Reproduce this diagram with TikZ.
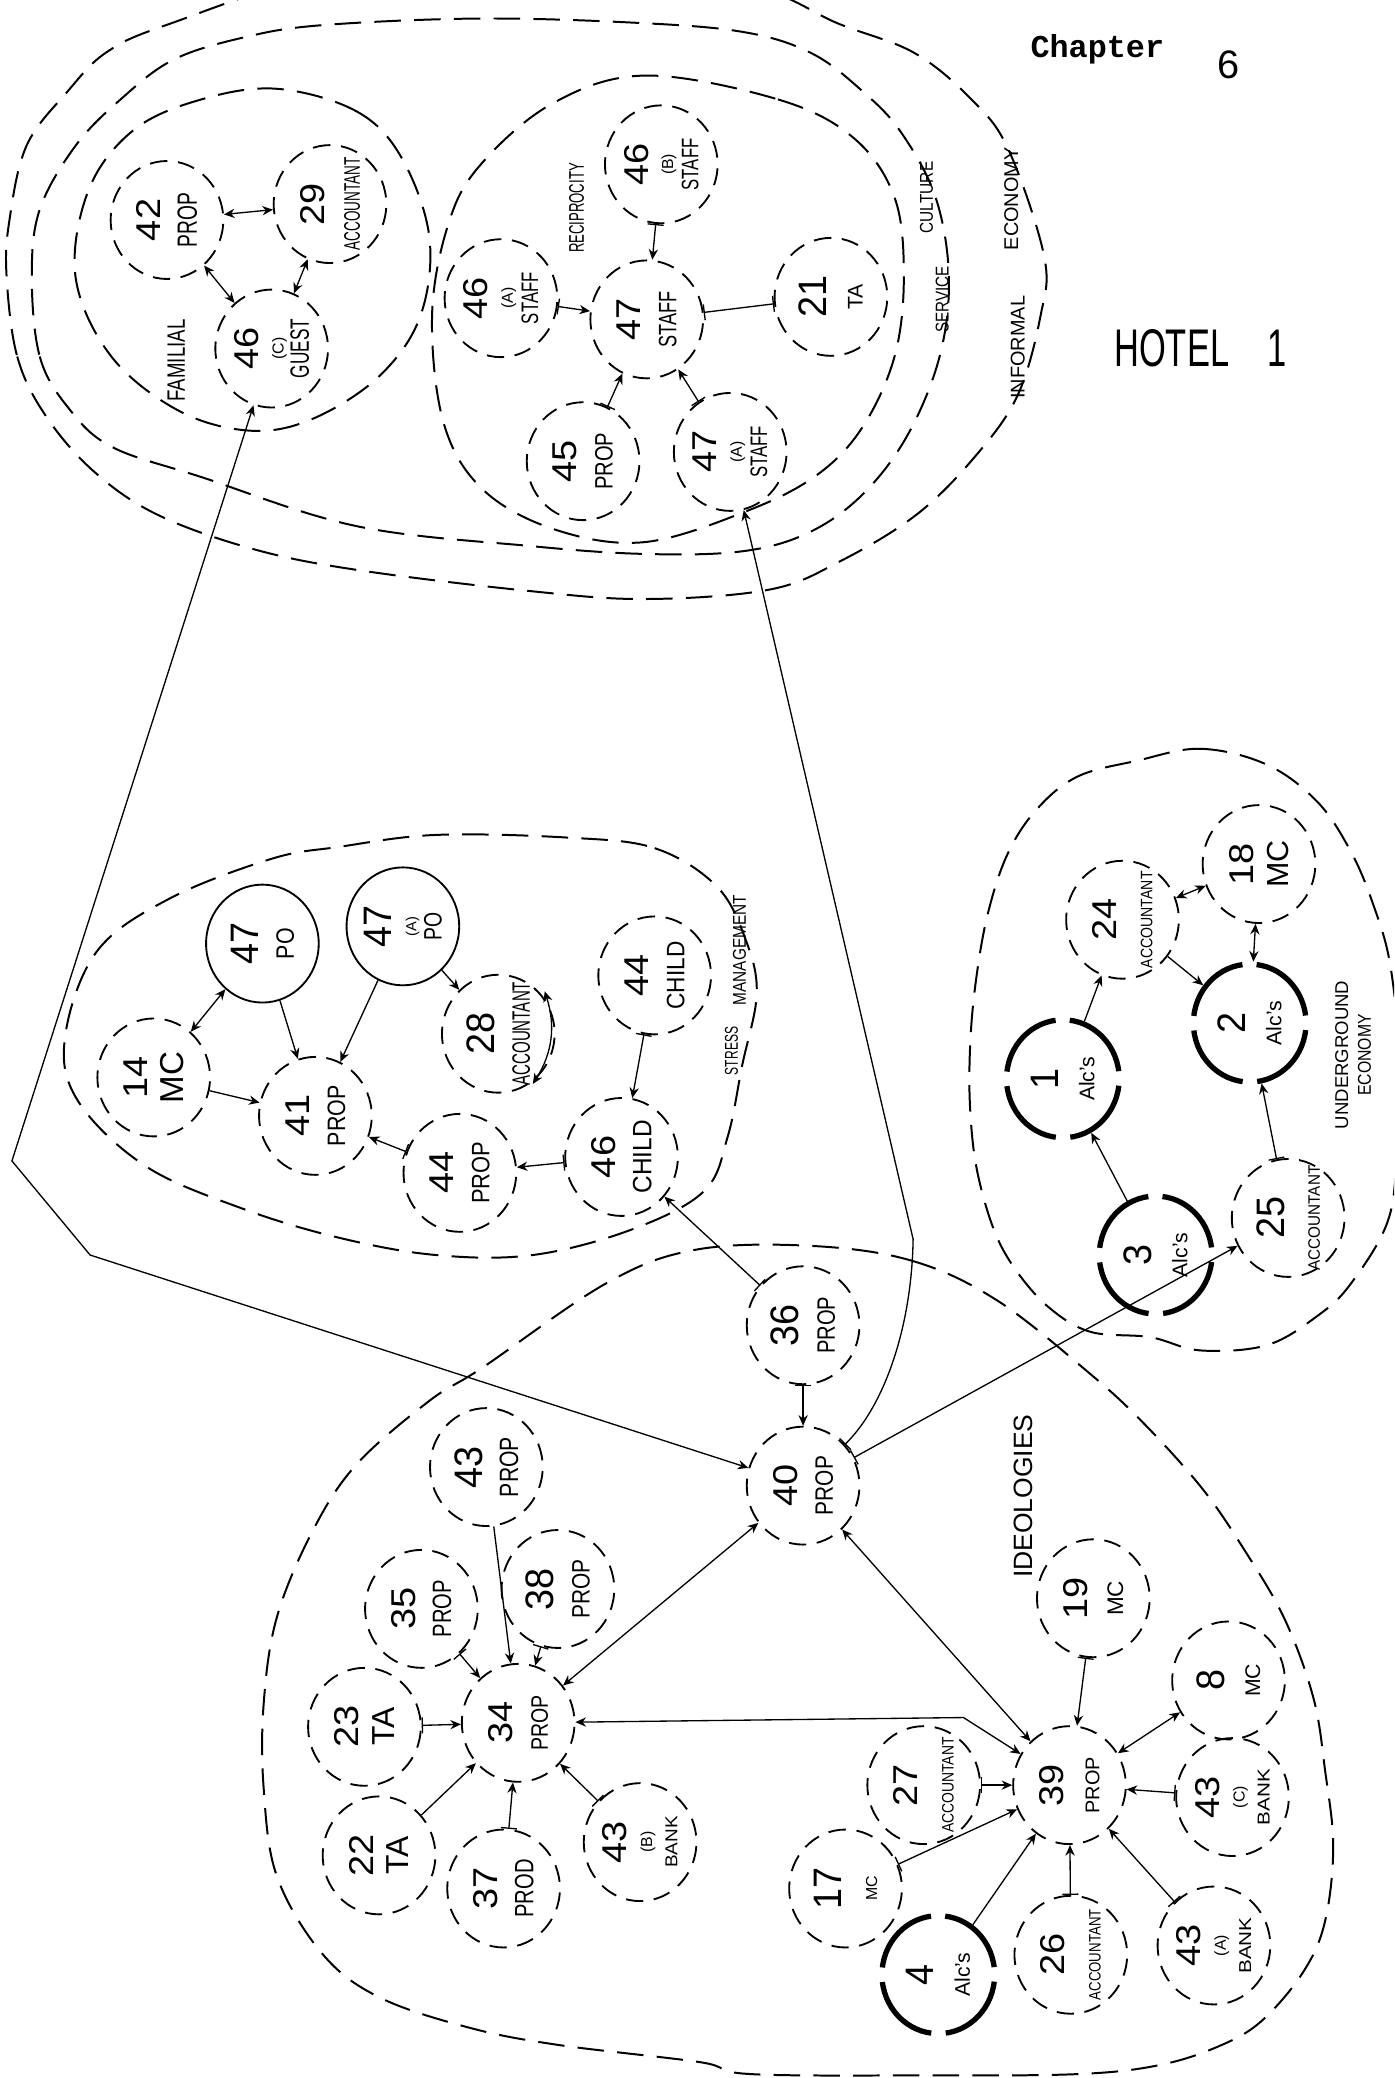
\documentclass[tikz,border=0pt]{standalone}
\usepackage{fontspec}
\usepackage{graphicx}
\setmainfont{Liberation Sans}
\newfontfamily\typew{Liberation Mono}
\usetikzlibrary{arrows.meta,shapes.geometric}
\newcommand\hnum[1]{{\fontsize{26}{26}\selectfont\scalebox{1.1}[1]{#1}}}
\newcommand\hbig[1]{{\fontsize{30}{30}\selectfont\scalebox{0.95}[1]{#1}}}
\newcommand\hlab[3]{{\fontsize{#1}{#1}\selectfont\scalebox{#2}[1]{#3}}}
\tikzset{
 dn/.style={ellipse, draw, line width=1.4pt, dash pattern=on 13pt off 8pt, rotate=90, minimum width=89pt, minimum height=85pt, inner sep=-15pt, align=center, font=\fontsize{10}{27}\selectfont},
 dn3/.style={dn, font=\fontsize{10}{19}\selectfont},
 sn/.style={dn, solid, line width=1.4pt},
 sn3/.style={sn, font=\fontsize{10}{19}\selectfont},
 tn/.style={dn, line width=4pt, dash pattern=on 57.4pt off 11pt, dash phase=62.9pt},
 grp/.style={line width=1.5pt, dash pattern=on 20pt off 10pt},
 con/.style={line width=1pt},
 ba/.style={con, {Bar[width=12pt]}-{Stealth[length=8pt,width=7pt]}},
 aa/.style={con, {Stealth[length=8pt,width=7pt]}-{Stealth[length=8pt,width=7pt]}},
 pa/.style={con, -{Stealth[length=8pt,width=7pt]}},
 bb/.style={con, {Bar[width=12pt]}-{Bar[width=12pt]}},
 hw/.style={inner sep=0pt}
}
\begin{document}
\begin{tikzpicture}[x=1pt,y=-1pt]
\useasboundingbox (0,0) rectangle (1052,1568);
\fill[white] (0,0) rectangle (1052,1568);
\clip (0,0) rectangle (1052,1568);

% ---------- group boundaries ----------
\draw[grp] plot[smooth cycle, tension=0.6] coordinates {(5,209) (13,269) (34,313) (70,355) (118,388) (190,414) (269,430) (400,446) (487,452) (580,445) (633,424) (692,388) (737,343) (768,298) (785,239) (788,194) (761,113) (733,75) (690,40) (633,18) (560,-12) (400,-30) (250,-20) (128,18) (81,39) (51,69) (20,110) (7,167)};
\draw[grp] plot[smooth cycle, tension=0.6] coordinates {(24,209) (30,269) (51,307) (84,337) (152,360) (269,397) (400,412) (487,418) (560,416) (610,402) (651,373) (685,328) (709,269) (716,209) (706,149) (680,100) (651,69) (612,40) (560,24) (476,17) (360,14) (243,19) (185,28) (131,45) (91,75) (57,110) (30,158)};
\draw[grp] plot[smooth cycle, tension=0.6] coordinates {(209,67) (269,84) (303,119) (324,179) (317,239) (286,284) (236,316) (189,325) (135,310) (84,269) (57,209) (67,143) (101,98) (152,75)};
\draw[grp] plot[smooth cycle, tension=0.6] coordinates {(487,57) (587,75) (644,104) (675,149) (682,209) (675,269) (651,322) (617,358) (565,385) (487,409) (420,400) (365,370) (335,320) (326,239) (338,170) (362,125) (417,78)};
\draw[grp] plot[smooth cycle, tension=0.6] coordinates {(428,632) (494,640) (541,669) (563,710) (571,750) (560,804) (549,858) (531,899) (476,928) (402,947) (329,947) (256,934) (183,912) (110,880) (59,831) (49,783) (73,718) (128,678) (205,648) (256,639) (329,630)};
\draw[grp] plot[smooth cycle, tension=0.6] coordinates {(858,574) (906,565) (956,577) (994,605) (1019,642) (1036,682) (1049,728) (1056,800) (1054,870) (1047,922) (1019,969) (994,993) (956,1015) (906,1019) (868,1009) (823,1005) (792,987) (767,959) (750,928) (737,882) (732,836) (732,790) (736,743) (745,691) (760,645) (782,611) (813,586)};
\draw[grp] plot[smooth cycle, tension=0.6] coordinates {(610,940) (687,951) (752,981) (823,1037) (864,1075) (907,1123) (938,1168) (969,1221) (991,1281) (1000,1337) (1006,1393) (1000,1449) (984,1487) (953,1524) (922,1543) (876,1558) (814,1565) (700,1566) (566,1565) (528,1556) (421,1543) (354,1530) (286,1507) (243,1474) (209,1416) (199,1350) (199,1285) (209,1220) (236,1155) (269,1105) (324,1057) (364,1032) (458,968) (525,943)};

% ---------- texts ----------
\node[hw, font=\typew\bfseries\fontsize{24}{24}\selectfont] (chap) at (828,37) {Chapter};
\node[hw, font=\fontsize{30}{30}\selectfont] (six) at (927,49) {6};
\node[hw, font=\fontsize{40}{40}\selectfont] (hotel) at (906,263) {\scalebox{0.65}[1]{HOTEL\hspace{45pt}1}};
\node[hw, rotate=90] (tfam) at (133,272) {\hlab{19}{0.74}{FAMILIAL}};
\node[hw, rotate=90] (trec) at (435,157) {\hlab{16}{0.62}{RECIPROCITY}};
\node[hw, rotate=90] (tser) at (711,226) {\hlab{14}{0.82}{SERVICE}};
\node[hw, rotate=90] (tcul) at (699,149) {\hlab{14}{0.83}{CULTURE}};
\node[hw, rotate=90] (tinf) at (768,262) {\hlab{15}{1}{INFORMAL}};
\node[hw, rotate=90] (teco) at (763,150) {\hlab{15}{1}{ECONOMY}};
\node[hw, rotate=90] (tstr) at (552,793) {\hlab{14}{0.65}{STRESS}};
\node[hw, rotate=90] (tman) at (558,717) {\hlab{14}{0.83}{MANAGEMENT}};
\node[hw, rotate=90, align=center, font=\fontsize{14}{17}\selectfont] (tund) at (1021,796) {UNDERGROUND\\\scalebox{0.85}[1]{ECONOMY}};
\node[hw, rotate=90, font=\fontsize{20}{20}\selectfont] (tide) at (772,1129) {IDEOLOGIES};

% ---------- nodes: top ----------
\node[dn] (n42) at (126,166) {\hnum{42}\\\hlab{21}{0.69}{PROP}};
\node[dn] (n29) at (249,154) {\hnum{29}\\\hlab{17}{0.6}{ACCOUNTANT}};
\node[dn3] (n46C) at (205,263) {\hnum{46}\\\hlab{12}{1}{(C)}\\\hlab{20}{0.65}{GUEST}};
\node[dn3] (n46A) at (378,225) {\hnum{46}\\\hlab{12}{1}{(A)}\\\hlab{18}{0.7}{STAFF}};
\node[dn] (n47S) at (488,241) {\hnum{47}\\\hlab{19}{0.72}{STAFF}};
\node[dn3] (n46B) at (499,124) {\hnum{46}\\\hlab{12}{1}{(B)}\\\hlab{18}{0.7}{STAFF}};
\node[dn] (n21) at (627,224) {\hbig{21}\\\hlab{16}{1}{TA}};
\node[dn] (n45) at (440,348) {\hnum{45}\\\hlab{19}{0.8}{PROP}};
\node[dn3] (n47A) at (551,341) {\hnum{47}\\\hlab{12}{1}{(A)}\\\hlab{18}{0.7}{STAFF}};

% ---------- nodes: stress management ----------
\node[sn] (n47PO) at (198,712) {\hbig{47}\\\hlab{19}{0.85}{PO}};
\node[sn3] (n47APO) at (304,699) {\hbig{47}\\\hlab{11}{1}{(A)}\\\hlab{19}{0.77}{PO}};
\node[dn] (n14) at (116,813) {\hnum{14}\\\hlab{25}{1}{MC}};
\node[dn] (n41) at (238,842) {\hnum{41}\\\hlab{19}{0.85}{PROP}};
\node[dn] (n28) at (376,780) {\hbig{28}\\\hlab{19}{0.6}{ACCOUNTANT}};
\node[dn] (n44C) at (494,736) {\hnum{44}\\\hlab{19}{0.9}{CHILD}};
\node[dn] (n46CH) at (469,873) {\hnum{46}\\\hlab{20}{0.92}{CHILD}};
\node[dn] (n44P) at (347,885) {\hnum{44}\\\hlab{19}{0.87}{PROP}};

% ---------- nodes: underground economy ----------
\node[dn] (n24) at (847,694) {\hnum{24}\\\hlab{12.5}{0.85}{ACCOUNTANT}};
\node[dn] (n18) at (950,652) {\hnum{18}\\\hlab{23}{1}{MC}};
\node[tn] (n1) at (802,814) {\hbig{1}\\\hlab{16}{1}{Alc's}};
\node[tn] (n2) at (943,772) {\hbig{2}\\\hlab{16}{1}{Alc's}};
\node[tn] (n3) at (872,947) {\hbig{3}\\\hlab{16}{1}{Alc's}};
\node[dn] (n25) at (972,919) {\hbig{25}\\\hlab{12.5}{0.92}{ACCOUNTANT}};

% ---------- nodes: ideologies ----------
\node[dn] (n36) at (606,1000) {\hbig{36}\\\hlab{19}{0.8}{PROP}};
\node[dn] (n40) at (606,1121) {\hnum{40}\\\hlab{19}{0.83}{PROP}};
\node[dn] (n43P) at (367,1107) {\hbig{43}\\\hlab{20}{0.8}{PROP}};
\node[dn] (n35) at (318,1214) {\hnum{35}\\\hlab{20}{0.76}{PROP}};
\node[dn] (n38) at (421,1199) {\hbig{38}\\\hlab{19}{0.83}{PROP}};
\node[dn] (n23) at (275,1303) {\hnum{23}\\\hlab{24}{1}{TA}};
\node[dn] (n34) at (391,1300) {\hnum{34}\\\hlab{18}{0.82}{PROP}};
\node[dn] (n22) at (286,1400) {\hnum{22}\\\hlab{24}{1}{TA}};
\node[dn] (n37) at (380,1425) {\hnum{37}\\\hlab{20}{0.76}{PROD}};
\node[dn3] (n43B) at (483,1390) {\hnum{43}\\\hlab{12}{1}{(B)}\\\hlab{13}{1.1}{BANK}};
\node[dn] (n19) at (825,1206) {\hnum{19}\\\hlab{17}{1}{MC}};
\node[dn] (n8) at (927,1268) {\hbig{8}\\\hlab{16}{1}{MC}};
\node[dn3] (n43C) at (930,1356) {\hnum{43}\\\hlab{12}{1}{(C)}\\\hlab{13}{1.2}{BANK}};
\node[dn] (n39) at (807,1347) {\hnum{39}\\\hlab{15}{1}{PROP}};
\node[dn] (n27) at (697,1347) {\hnum{27}\\\hlab{12.5}{0.84}{ACCOUNTANT}};
\node[dn] (n17) at (638,1425) {\hbig{17}\\\hlab{12}{1}{MC}};
\node[tn] (n4) at (708,1490) {\hbig{4}\\\hlab{16}{1}{Alc's}};
\node[dn] (n26) at (808,1475) {\hnum{26}\\\hlab{12.5}{0.8}{ACCOUNTANT}};
\node[dn3] (n43A) at (916,1468) {\hnum{43}\\\hlab{12}{1}{(A)}\\\hlab{13}{1.2}{BANK}};

% ---------- waypoints ----------
\coordinate (w1) at (9,876);
\coordinate (w2) at (68,947);
\coordinate (w3) at (689,935);
\coordinate (w4) at (727,1296);
\coordinate (s28a) at (411,748);
\coordinate (s28b) at (402,818);

% ---------- connectors ----------
\draw[aa] (n42) -- (n29);
\draw[aa] (n42) -- (n46C);
\draw[aa] (n46C) -- (n29);
\draw[ba] (n46A) -- (n47S);
\draw[ba] (n46B) -- (n47S);
\draw[ba] (n45) -- (n47S);
\draw[ba] (n47A) -- (n47S);
\draw[bb] (n47S) -- (n21);

\draw[aa] (n14) -- (n47PO);
\draw[pa] (n14) -- (n41);
\draw[pa] (n47PO) -- (n41);
\draw[pa] (n47APO) -- (n41);
\draw[pa] (n47APO) -- (n28);
\draw[aa] (s28a) to[bend left=25] (s28b);
\draw[ba] (n44C) -- (n46CH);
\draw[ba] (n46CH) -- (n44P);
\draw[ba] (n44P) -- (n41);
\draw[ba] (n36) -- (n46CH);

\draw[pa] (n1) -- (n24);
\draw[pa] (n24) -- (n2);
\draw[aa] (n18) -- (n24);
\draw[aa] (n18) -- (n2);
\draw[pa] (n3) -- (n1);
\draw[ba] (n25) -- (n2);
\draw[ba] (n40) -- (n25);

\draw[ba] (n36) -- (n40);
\draw[aa] (n34) -- (n40);
\draw[aa] (n39) -- (n40);
\draw[aa] (n34) -- (w4) -- (n39);
\draw[pa] (n43P) -- (n34);
\draw[ba] (n38) -- (n34);
\draw[ba] (n35) -- (n34);
\draw[ba] (n23) -- (n34);
\draw[pa] (n22) -- (n34);
\draw[ba] (n37) -- (n34);
\draw[ba] (n43B) -- (n34);
\draw[ba] (n19) -- (n39);
\draw[aa] (n39) -- (n8);
\draw[ba] (n43C) -- (n39);
\draw[ba] (n43A) -- (n39);
\draw[ba] (n26) -- (n39);
\draw[pa] (n4) -- (n39);
\draw[ba] (n17) -- (n39);
\draw[ba] (n27) -- (n39);

\draw[aa] (n46C) -- (w1) -- (w2) -- (n40);
\draw[ba] (n40) .. controls (668,1060) and (688,1000) .. (w3) -- (n47A);
\end{tikzpicture}
\end{document}
